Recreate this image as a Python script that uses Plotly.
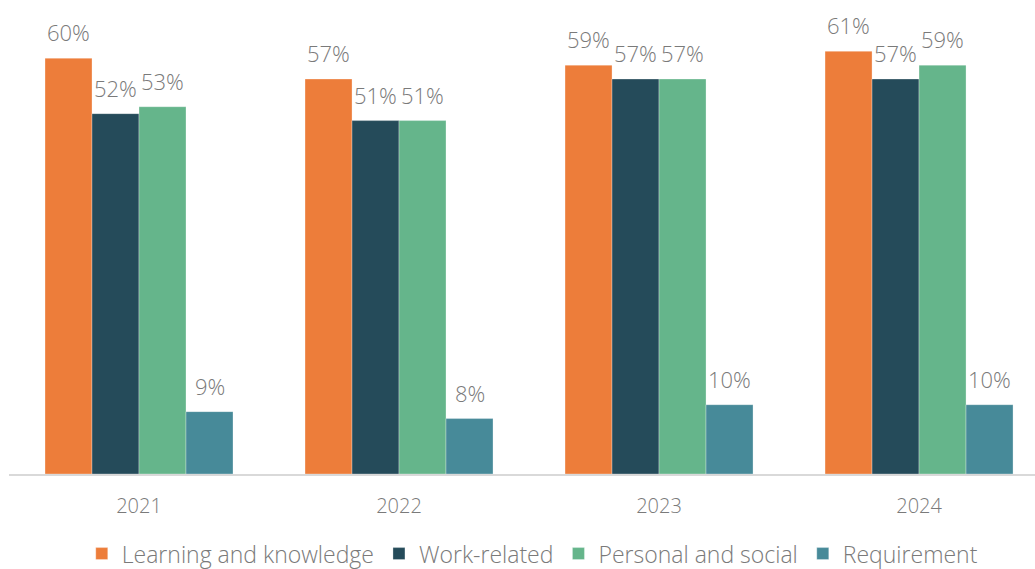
import plotly.graph_objects as go

years = ["2021", "2022", "2023", "2024"]
series_names = ["Learning and knowledge", "Work-related", "Personal and social", "Requirement"]
learning = [60, 57, 59, 61]
work = [52, 51, 57, 57]
personal = [53, 51, 57, 59]
requirement = [9, 8, 10, 10]

colors = ["#ED7D3A", "#254B5A", "#65B58B", "#478A99"]
values = [learning, work, personal, requirement]

FONT = "'Open Sans', Lato, sans-serif"
GREY = "#7a7a7a"

fig = go.Figure()
for name, vals, col in zip(series_names, values, colors):
    fig.add_trace(go.Bar(
        x=years, y=vals, name=name,
        marker=dict(color=col, line=dict(color="rgba(255,255,255,0.6)", width=0.5)),
    ))

# value labels above each bar
n = len(series_names)
bar_w = (1 - 0.277) / n
for i, vals in enumerate(values):
    offset = -0.5 * (1 - 0.277) + bar_w * (i + 0.5)
    for j, v in enumerate(vals):
        fig.add_annotation(
            x=j + offset, y=v, xref="x", yref="y",
            text=f"{v}%", showarrow=False, yanchor="bottom",
            yshift=9, font=dict(family=FONT, size=22, color=GREY, weight=300),
        )

fig.update_layout(
    width=1035, height=569,
    margin=dict(l=9, r=0, t=0, b=95, autoexpand=False),
    plot_bgcolor="white", paper_bgcolor="white",
    barmode="group", bargap=0.277, bargroupgap=0,
    font=dict(family=FONT, color=GREY, weight=300),
    legend=dict(
        orientation="h", x=0.51, xanchor="center",
        yref="container", y=0.027, yanchor="middle",
        font=dict(family=FONT, size=23, color=GREY, weight=300),
        itemwidth=30, traceorder="normal",
    ),
    showlegend=True,
)
fig.update_xaxes(
    type="category", range=[-0.5, 3.446],
    showline=True, linecolor="#d9d9d9", linewidth=2,
    tickfont=dict(family=FONT, size=20, color=GREY, weight=300),
    ticklabelstandoff=13, showgrid=False, zeroline=False,
)
fig.update_yaxes(
    range=[0, 68.4], visible=False, showgrid=False, zeroline=False,
)

fig.write_html("out.html")
